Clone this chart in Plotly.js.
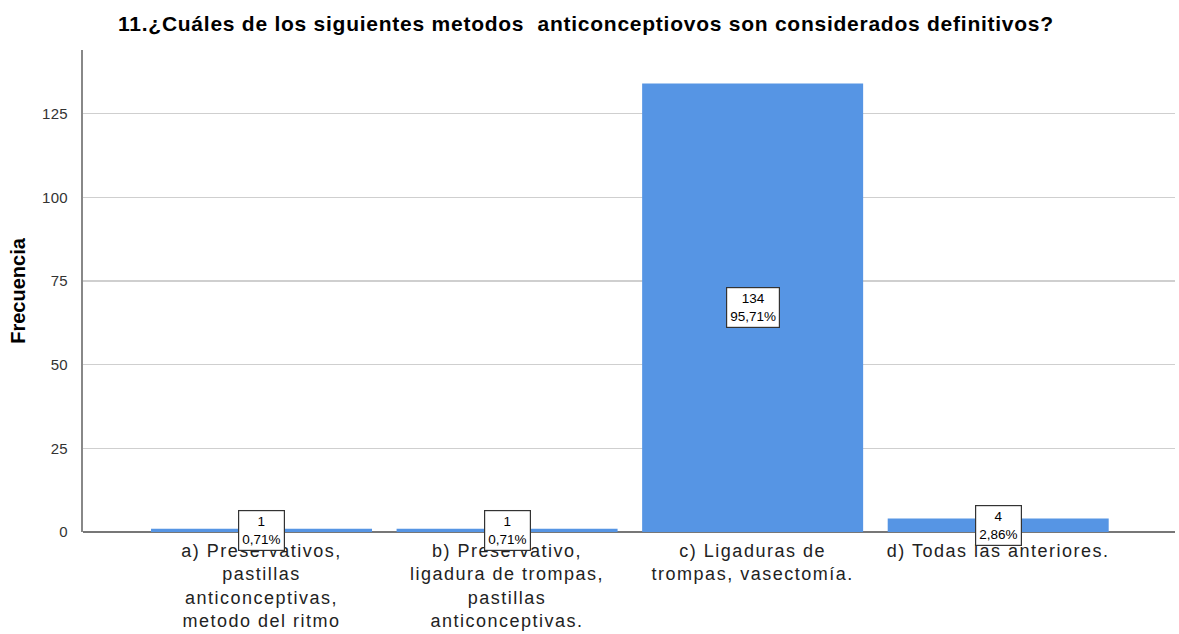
<!DOCTYPE html>
<html><head><meta charset="utf-8">
<script src="https://cdn.plot.ly/plotly-3.0.1.min.js"></script>
<style>
html,body{margin:0;padding:0;background:#fff}
#chart{width:1179px;height:634px}
#chart .xtick text{letter-spacing:1.5px}
#chart .gtitle{letter-spacing:0.75px}
#chart .ytick text{letter-spacing:0.3px}
</style>
</head><body><div id="chart"></div>
<script>
const categories = ["a", "b", "c", "d"];
const tickLabels = [
  "a) Preservativos,<br>pastillas<br>anticonceptivas,<br>metodo del ritmo",
  "b) Preservativo,<br>ligadura de trompas,<br>pastillas<br>anticonceptivas.",
  "c) Ligaduras de<br>trompas, vasectomía.",
  "d) Todas las anteriores."
];
const counts = [1, 1, 134, 4];
const percents = ["0,71%", "0,71%", "95,71%", "2,86%"];

const xIdx = categories.map((c, i) => i);
const annotations = counts.map((v, i) => ({
  x: i, y: v / 2, xref: 'x', yref: 'y',
  text: v + '<br>' + percents[i], showarrow: false,
  font: {family: 'Liberation Sans, Arial', size: 13.5, color: '#000'},
  bgcolor: '#fff', bordercolor: '#333', borderwidth: 1.2, borderpad: 3,
  xanchor: 'center', yanchor: 'middle'
}));

Plotly.newPlot('chart', [{
  type: 'bar', x: xIdx, y: counts, width: 0.9,
  marker: {color: 'rgb(86,149,228)', line: {width: 0}},
  hoverinfo: 'none'
}], {
  width: 1179, height: 634,
  margin: {l: 83, r: 4, t: 50, b: 102},
  paper_bgcolor: '#fff', plot_bgcolor: '#fff',
  font: {family: 'Liberation Sans, Arial', color: '#222'},
  title: {text: '<b>11.¿Cuáles de los siguientes metodos&nbsp; anticonceptiovos son considerados definitivos?</b>',
          font: {size: 21, color: '#000'}, x: 0.497, xanchor: 'center', y: 0.963, yanchor: 'middle'},
  xaxis: {range: [-0.727, 3.72], tickmode: 'array', tickvals: xIdx, ticktext: tickLabels,
          showgrid: false, zeroline: false, showline: false, ticks: '',
          tickfont: {size: 18, color: '#222'}, ticklabelstandoff: 6, fixedrange: true},
  yaxis: {range: [0, 144], tickvals: [0, 25, 50, 75, 100, 125], showgrid: true,
          gridcolor: '#cfcfcf', gridwidth: 1.5, zeroline: true, zerolinecolor: '#777', zerolinewidth: 1.5,
          showline: true, linecolor: '#888', linewidth: 2, ticks: '',
          tickfont: {size: 15, color: '#333'}, ticklabelstandoff: 10,
          title: {text: '<b>Frecuencia</b>', font: {size: 20, color: '#000'}, standoff: 12}},
  annotations: annotations,
  showlegend: false, bargap: 0.1
}, {displayModeBar: false, staticPlot: true});
</script></body></html>
